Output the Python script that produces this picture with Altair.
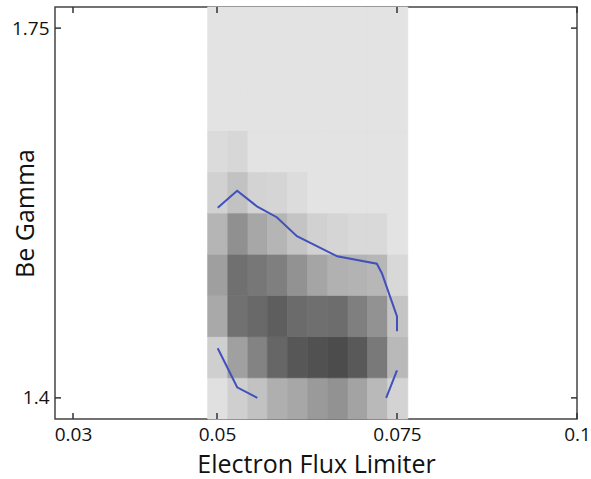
import altair as alt
import pandas as pd

# Bin edges of the 2D histogram
x_edges = [0.0487, 0.0515, 0.0543, 0.0570, 0.0598, 0.0626, 0.0654, 0.0682, 0.0709, 0.0737, 0.0765]
y_edges = [1.38, 1.419, 1.458, 1.497, 1.536, 1.575, 1.614, 1.653, 1.692, 1.731, 1.77]

# Density (darkness) per cell, rows from bottom (row 0) to top (row 9)
density = [
    [3, 19, 31, 49, 57, 69, 77, 61, 39, 15],
    [19, 64, 93, 123, 139, 145, 151, 137, 103, 39],
    [55, 111, 119, 131, 117, 113, 115, 97, 77, 29],
    [65, 112, 105, 97, 77, 59, 47, 45, 41, 10],
    [43, 79, 57, 43, 29, 17, 13, 9, 9, 0],
    [17, 31, 15, 13, 6, 0, 0, 0, 0, 0],
    [7, 11, 0, 0, 0, 0, 0, 0, 0, 0],
    [0, 0, 0, 0, 0, 0, 0, 0, 0, 0],
    [0, 0, 0, 0, 0, 0, 0, 0, 0, 0],
    [0, 0, 0, 0, 0, 0, 0, 0, 0, 0],
]

# Contour segments
contour_seg = [0, 0, 0, 0, 0, 0, 0, 0, 0, 0, 1, 1, 1, 2, 2]
contour_x = [0.0501, 0.0528, 0.0556, 0.0583, 0.0611, 0.0667, 0.0722, 0.0729, 0.0750, 0.0750,
             0.0501, 0.0528, 0.0556, 0.0750, 0.0735]
contour_y = [1.580, 1.596, 1.581, 1.571, 1.553, 1.534, 1.527, 1.518, 1.477, 1.463,
             1.447, 1.410, 1.400, 1.426, 1.400]

x_ticks = [0.03, 0.05, 0.075, 0.1]
y_ticks = [1.4, 1.75]

W, H = 522, 412
FONT = "Open Sans"

cells = []
for r in range(10):
    for c in range(10):
        cells.append({"x": x_edges[c], "x2": x_edges[c + 1],
                      "y": y_edges[r], "y2": y_edges[r + 1],
                      "d": density[r][c]})
cells_df = pd.DataFrame(cells)

line_df = pd.DataFrame({"seg": contour_seg, "x": contour_x, "y": contour_y,
                        "i": list(range(len(contour_x)))})
xt_df = pd.DataFrame({"x": x_ticks})
yt_df = pd.DataFrame({"y": y_ticks})

xs = alt.Scale(domain=[0.0275, 0.1], nice=False, zero=False)
ys = alt.Scale(domain=[1.38, 1.77], nice=False, zero=False)
gray = alt.Scale(domain=[0, 151], range=["#e3e3e3", "#4c4c4c"])

xaxis = alt.Axis(values=x_ticks, format=".3~f", title="Electron Flux Limiter",
                 grid=False, ticks=False, domain=False, labelFlush=False,
                 labelFont=FONT, labelFontSize=19, labelColor="#111",
                 labelPadding=6, titleFont=FONT, titleFontSize=25,
                 titleFontWeight="normal", titleColor="#111", titlePadding=8)
yaxis = alt.Axis(values=y_ticks, format=".2~f", title="Be Gamma",
                 grid=False, ticks=False, domain=False, labelFlush=False,
                 labelFont=FONT, labelFontSize=19, labelColor="#111",
                 labelPadding=6, titleFont=FONT, titleFontSize=25,
                 titleFontWeight="normal", titleColor="#111",
                 titleX=-30, titleY=H / 2, titleAngle=-90,
                 titleAlign="center", titleBaseline="middle")

heat = alt.Chart(cells_df).mark_rect(strokeWidth=0.7).encode(
    x=alt.X("x:Q", scale=xs, axis=xaxis),
    x2="x2:Q",
    y=alt.Y("y:Q", scale=ys, axis=yaxis),
    y2="y2:Q",
    color=alt.Color("d:Q", scale=gray, legend=None),
    stroke=alt.Stroke("d:Q", scale=gray, legend=None),
)

lines = alt.Chart(line_df).mark_line(color="#4150bb", strokeWidth=2).encode(
    x=alt.X("x:Q", scale=xs, axis=xaxis),
    y=alt.Y("y:Q", scale=ys, axis=yaxis),
    detail="seg:N",
    order="i:Q",
)

tick_style = dict(color="#333", strokeWidth=1.5)
xt_bottom = alt.Chart(xt_df).mark_rule(**tick_style).encode(
    x=alt.X("x:Q", scale=xs, axis=xaxis), y=alt.value(H), y2=alt.value(H - 6))
xt_top = alt.Chart(xt_df).mark_rule(**tick_style).encode(
    x=alt.X("x:Q", scale=xs, axis=xaxis), y=alt.value(0), y2=alt.value(6))
yt_left = alt.Chart(yt_df).mark_rule(**tick_style).encode(
    y=alt.Y("y:Q", scale=ys, axis=yaxis), x=alt.value(0), x2=alt.value(6))
yt_right = alt.Chart(yt_df).mark_rule(**tick_style).encode(
    y=alt.Y("y:Q", scale=ys, axis=yaxis), x=alt.value(W - 6), x2=alt.value(W))

chart = alt.layer(heat, lines, xt_bottom, xt_top, yt_left, yt_right).properties(
    width=W, height=H,
    autosize=alt.AutoSizeParams(type="none"),
    padding={"left": 55, "top": 7, "right": 14, "bottom": 60},
    background="white",
).configure_view(stroke="#444", strokeWidth=1.5)

chart.save("out.html", embed_options={"renderer": "svg", "actions": False})
